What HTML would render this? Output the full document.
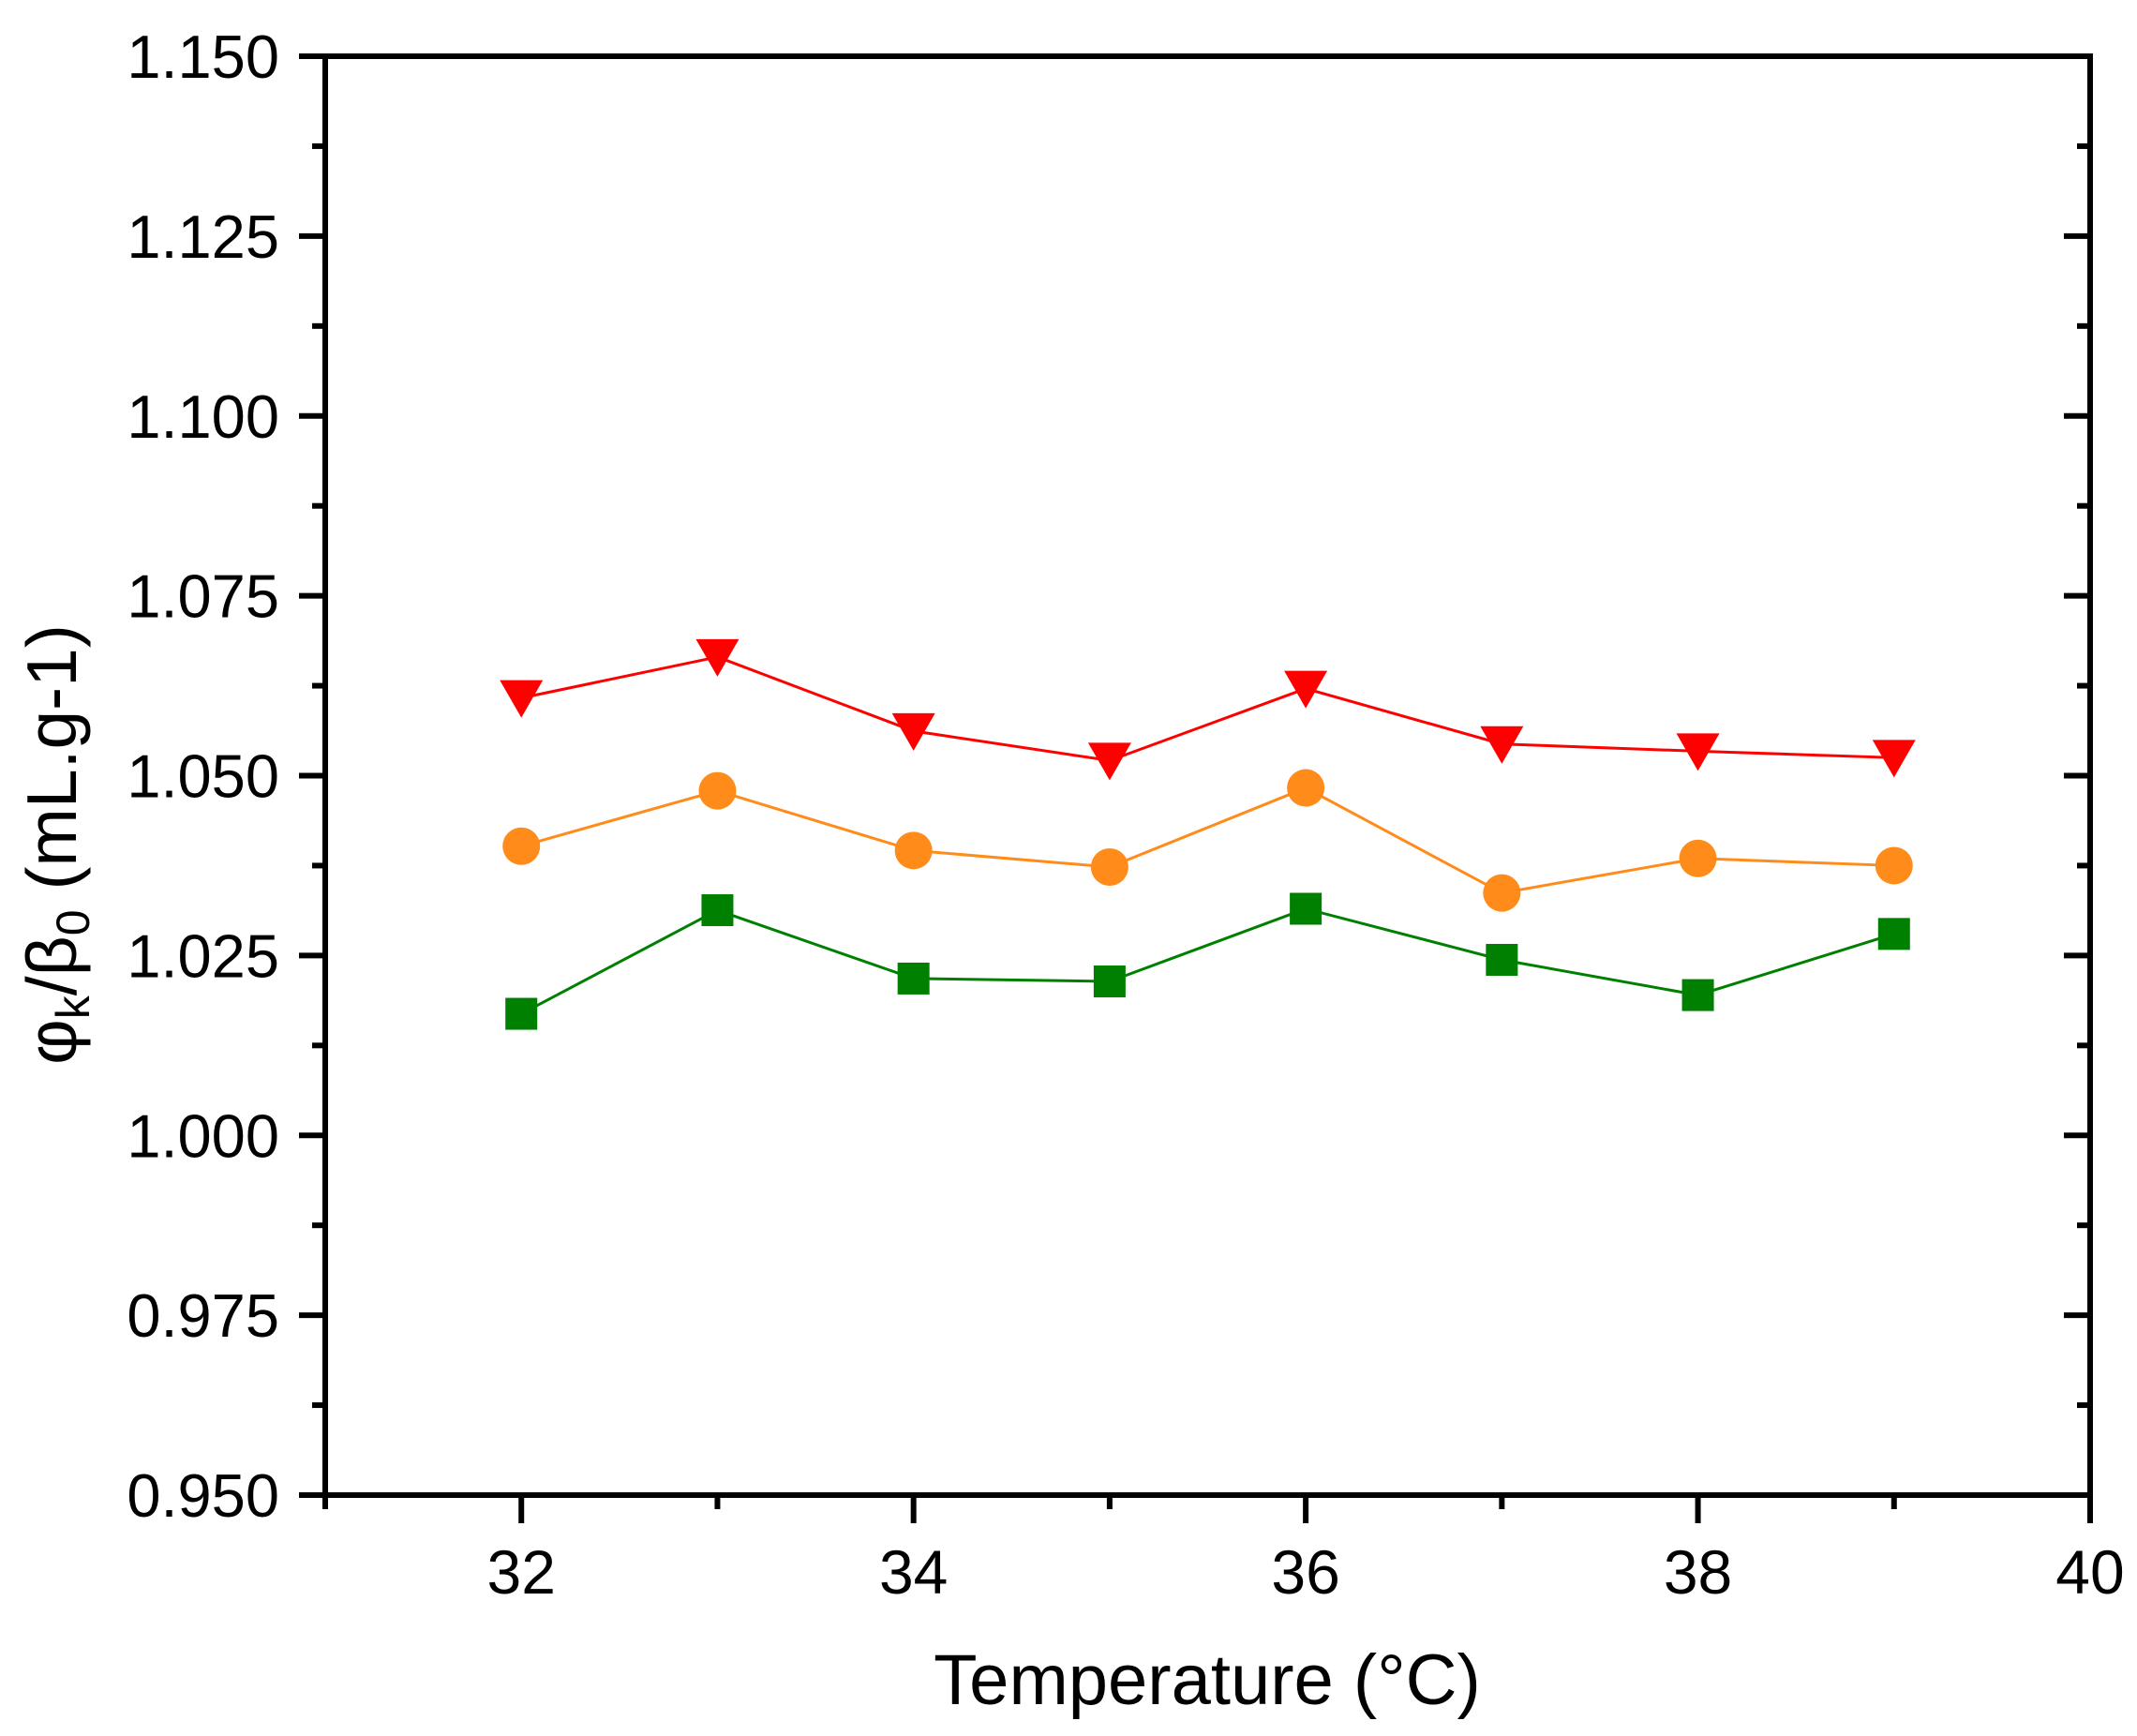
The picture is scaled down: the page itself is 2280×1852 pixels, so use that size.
<!DOCTYPE html>
<html><head><meta charset="utf-8"><style>
html,body{margin:0;padding:0;background:#fff;}
svg{display:block;font-family:"Liberation Sans",Arial,sans-serif;}
</style></head><body>
<svg id="chart" width="2280" height="1852" viewBox="0 0 2280 1852">
<g id="axes"></g>
<g id="series"></g>
<text x="1288" y="1818" font-size="76" text-anchor="middle">Temperature (°C)</text>
<text transform="translate(81,901) rotate(-90)" font-size="75" text-anchor="middle">φ<tspan font-size="50" dy="14">k</tspan><tspan dy="-14">/β</tspan><tspan font-size="50" dy="14">0</tspan><tspan dy="-14"> (mL.g-1)</tspan></text>
</svg>
<script>
const temps = [32,33,34,35,36,37,38,39];
const redValues = [1.0608,1.0665,1.0562,1.0521,1.0621,1.0544,1.0534,1.0525];
const orangeValues = [1.0402,1.0479,1.0396,1.0373,1.0483,1.0337,1.0385,1.0375];
const greenValues = [1.0169,1.0313,1.0218,1.0214,1.0315,1.0244,1.0195,1.0280];
const xTicks = [32,34,36,38,40];
const yTicks = [0.950,0.975,1.000,1.025,1.050,1.075,1.100,1.125,1.150];

const X0=347,X1=2230,Y0=1595,Y1=60;
const xMin=31,xMax=40,yMin=0.95,yMax=1.15;
function sx(v){return X0+(v-xMin)/(xMax-xMin)*(X1-X0);}
function sy(v){return Y0-(v-yMin)/(yMax-yMin)*(Y0-Y1);}
const NS="http://www.w3.org/2000/svg";
function mk(tag,attrs,parent){const e=document.createElementNS(NS,tag);for(const k in attrs)e.setAttribute(k,attrs[k]);parent.appendChild(e);return e;}
const axes=document.getElementById('axes');
const ser=document.getElementById('series');
let el;
el=mk('rect',{x:X0,y:Y1,width:X1-X0,height:Y0-Y1,fill:'none',stroke:'#000','stroke-width':6},axes);


for(let v=31;v<=40;v++){
  const major=xTicks.includes(v);
  const x=sx(v);
  el=mk('line',{x1:x,y1:Y0,x2:x,y2:Y0+(major?30:15),stroke:'#000','stroke-width':6},axes);
  
  
  if(major){
    el=mk('text',{x:x,y:1700,'font-size':66,'text-anchor':'middle'},axes);
    el.textContent=String(v);
    
    
  }
}
for(let i=0;i<yTicks.length;i++){
  const v=yTicks[i], y=sy(v);
  el=mk('line',{x1:X0-28,y1:y,x2:X0,y2:y,stroke:'#000','stroke-width':6},axes);
  
  
  el=mk('line',{x1:X1-28,y1:y,x2:X1,y2:y,stroke:'#000','stroke-width':6},axes);
  
  
  el=mk('text',{x:298,y:y+23,'font-size':65,'text-anchor':'end'},axes);
  el.textContent=v.toFixed(3);
  
  
  if(i<yTicks.length-1){
    const m=sy(v+0.0125);
    el=mk('line',{x1:X0-14,y1:m,x2:X0,y2:m,stroke:'#000','stroke-width':6},axes);
    
    
    el=mk('line',{x1:X1-14,y1:m,x2:X1,y2:m,stroke:'#000','stroke-width':6},axes);
    
    
  }
}
function drawSeries(vals,color,shape,name){
  const g=mk('g',{},ser);
  
  
  const pts=temps.map((t,i)=>sx(t)+','+sy(vals[i])).join(' ');
  el=mk('polyline',{points:pts,fill:'none',stroke:color,'stroke-width':3},g);
  
  
  temps.forEach((t,i)=>{
    const x=sx(t),y=sy(vals[i]);
    let m;
    if(shape==='square') m=mk('rect',{x:x-17,y:y-17,width:34,height:34,fill:color},g);
    else if(shape==='circle') m=mk('circle',{cx:x,cy:y,r:20,fill:color},g);
    else m=mk('polygon',{points:(x-23)+','+(y-19)+' '+(x+23)+','+(y-19)+' '+x+','+(y+21),fill:color},g);
    
    
  });
}
drawSeries(greenValues,'#008000','square','green');
drawSeries(orangeValues,'#ff8c1a','circle','orange');
drawSeries(redValues,'#ff0000','triangle','red');
</script>
</body></html>
